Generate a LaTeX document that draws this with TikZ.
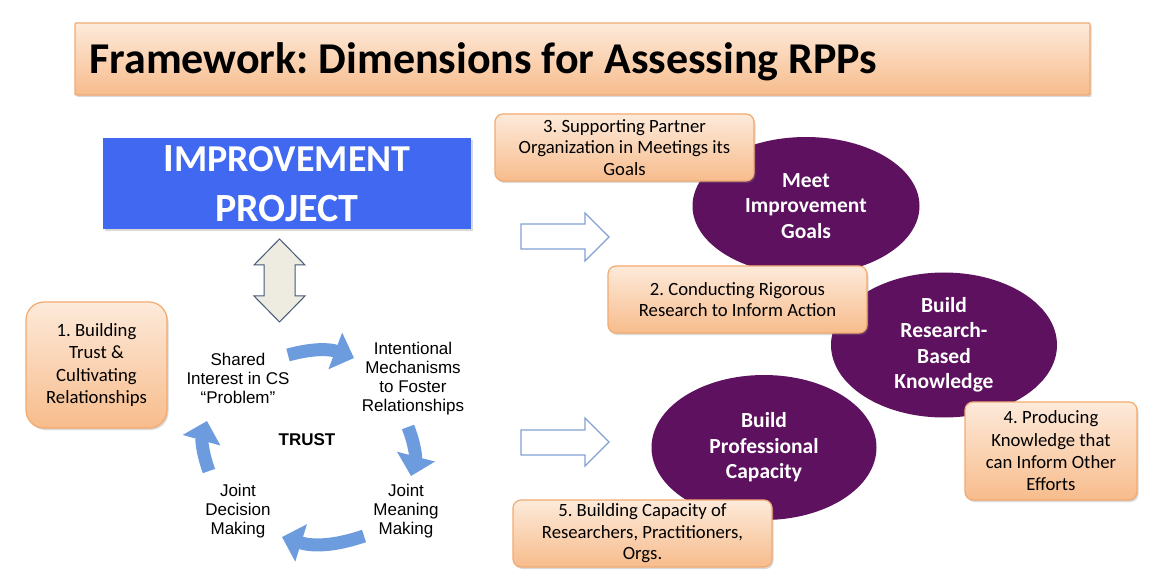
\documentclass[tikz,border=0pt]{standalone}
\usepackage{fontspec}
\setmainfont{Carlito}
\newfontfamily\arialfont{Liberation Sans}
\usetikzlibrary{shapes.geometric,shadows,arrows.meta}
\definecolor{orTop}{RGB}{253,234,218}
\definecolor{orBot}{RGB}{247,188,140}
\definecolor{orLine}{RGB}{242,170,112}
\definecolor{projBlue}{RGB}{64,104,240}
\definecolor{goalPurple}{RGB}{93,17,95}
\definecolor{cycleBlue}{RGB}{108,155,222}
\definecolor{hollowLine}{RGB}{130,160,212}
\definecolor{dblFill}{RGB}{238,236,225}
\definecolor{dblLine}{RGB}{70,88,120}
\frenchspacing
\begin{document}
\begin{tikzpicture}[x=1pt, y=-1pt,
  soft shadow/.style={drop shadow={opacity=.3, shadow xshift=1.5pt, shadow yshift=-2pt}},
  dim box/.style={rectangle, rounded corners=8pt, draw=orLine, line width=1.2pt, top color=orTop, bottom color=orBot, soft shadow, align=center, inner sep=0pt, font=\fontsize{18.7}{21.5}\selectfont},
  goal node/.style={ellipse, fill=goalPurple, text=white, inner sep=0pt, align=center, font=\bfseries\fontsize{21.5}{25.5}\selectfont},
  cycle text/.style={align=center, font=\arialfont\fontsize{17}{19}\selectfont},
  cycle arrow/.style={draw=cycleBlue, line width=13pt, -{Triangle[width=38pt,length=20pt]}},
  hollow arrow/.style={draw=hollowLine, fill=white, line width=1.2pt, line join=miter}]
\useasboundingbox (0,0) rectangle (1152,580);
% title
\node[dim box, rounded corners=1pt, minimum width=1015pt, minimum height=72pt] (title) at (582.5,59) {};
\node[anchor=base west, font=\bfseries\fontsize{44}{50}\selectfont] (titletext) at (86,74) {Framework: Dimensions for Assessing RPPs};
% project and the trust cycle
\node[rectangle, fill=projBlue, minimum width=368pt, minimum height=91pt, soft shadow, text=white, align=center, font=\bfseries\fontsize{40}{50}\selectfont] (project) at (287,183.5) {I{\fontsize{38}{50}\selectfont MPROVEMENT}\\PROJECT};
\draw[fill=dblFill, draw=dblLine, line width=1pt] (279.5,239) -- (305,265) -- (295,265) -- (295,296) -- (305,296) -- (279.5,322) -- (254,296) -- (264,296) -- (264,265) -- (254,265) -- cycle;
\node[dim box, rounded corners=18pt, minimum width=141pt, minimum height=126pt, font=\fontsize{18.7}{22.3}\selectfont] (trustbox) at (96.5,365) {1. Building\\Trust \&\\Cultivating\\Relationships};
\node[cycle text] (shared) at (238,378.5) {Shared\\Interest in CS\\“Problem”};
\node[cycle text] (mech) at (413,378.5) {Intentional\\Mechanisms\\to Foster\\Relationships};
\node[cycle text] (meaning) at (406,511) {Joint\\Meaning\\Making};
\node[cycle text] (decision) at (238,511) {Joint\\Decision\\Making};
\node[font=\arialfont\bfseries\fontsize{17}{19}\selectfont] (trust) at (307,440) {TRUST};
\coordinate (a1s) at (288,355); \coordinate (a1e) at (354,358);
\coordinate (a2s) at (408,427); \coordinate (a2e) at (411,476);
\coordinate (a3s) at (364,536); \coordinate (a3e) at (282,537);
\coordinate (a4s) at (209,471); \coordinate (a4e) at (207,421);
\draw[cycle arrow] (a1s) to[bend left=18] (a1e);
\draw[cycle arrow] (a2s) to[bend left=18] (a2e);
\draw[cycle arrow] (a3s) to[bend left=18] (a3e);
\draw[cycle arrow] (a4s) to[bend left=18] (a4e);
% outcomes
\draw[hollow arrow] (521,224) -- (585,224) -- (585,213) -- (609,237) -- (585,261) -- (585,249) -- (521,249) -- cycle;
\draw[hollow arrow] (521,430) -- (585,430) -- (585,418) -- (609,442) -- (585,466) -- (585,455) -- (521,455) -- cycle;
\node[goal node, minimum width=227pt, minimum height=138pt] (meet) at (806,206) {Meet\\Improvement\\Goals};
\node[goal node, minimum width=226pt, minimum height=145pt] (research) at (944,345) {Build\\Research-\\Based\\Knowledge};
\node[goal node, minimum width=225pt, minimum height=145pt] (capacity) at (764,447.5) {Build\\Professional\\Capacity};
\node[dim box, minimum width=259pt, minimum height=67pt] (goalsbox) at (624.5,147.5) {3. Supporting Partner\\Organization in Meetings its\\Goals};
\node[dim box, minimum width=259pt, minimum height=67pt] (rigorbox) at (737.5,299.5) {2. Conducting Rigorous\\Research to Inform Action};
\node[dim box, minimum width=172pt, minimum height=98pt, font=\fontsize{18.7}{22.3}\selectfont] (knowbox) at (1051,451) {4. Producing\\Knowledge that\\can Inform Other\\Efforts};
\node[dim box, minimum width=259pt, minimum height=67pt] (capbox) at (642.5,533.5) {5. Building Capacity of\\Researchers, Practitioners,\\Orgs.};
\end{tikzpicture}
\end{document}
